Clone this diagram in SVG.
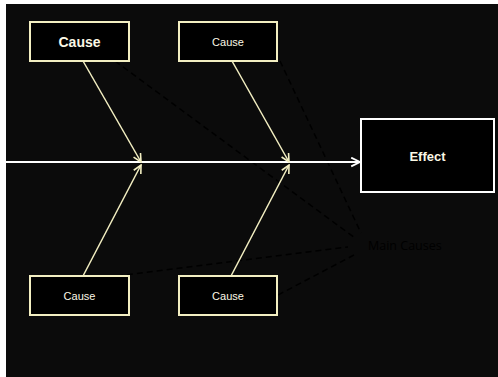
<svg xmlns="http://www.w3.org/2000/svg" width="498" height="377" viewBox="0 0 498 377">
<style>
.cause{fill:#000;stroke:#f3efc2;stroke-width:2}
.effect{fill:#000;stroke:#fff;stroke-width:2}
.t{font-family:"Century Gothic","URW Gothic","Liberation Sans",sans-serif;fill:#fbf8e6;text-anchor:middle;dominant-baseline:central}
.bone{stroke:#f3efc2;stroke-width:1.5;fill:none}
.dash{stroke:#000;stroke-width:1.5;stroke-dasharray:6 4;fill:none}
</style>
<defs>
<marker id="ah" viewBox="0 0 10 10" refX="9" refY="5" markerWidth="10" markerHeight="10" markerUnits="userSpaceOnUse" orient="auto">
<path d="M1,1 L9,5 L1,9" fill="none" stroke="#f3efc2" stroke-width="1.6"/>
</marker>
<marker id="ahw" viewBox="0 0 10 10" refX="9" refY="5" markerWidth="11" markerHeight="11" markerUnits="userSpaceOnUse" orient="auto">
<path d="M1,1 L9,5 L1,9" fill="none" stroke="#fff" stroke-width="1.6"/>
</marker>
</defs>
<rect x="0" y="0" width="498" height="377" fill="#fff"/>
<rect x="6" y="4" width="492" height="373" fill="#0b0b0b"/>
<g id="connectors">
<path class="dash" d="M115,61 L355,238"/>
<path class="dash" d="M280,61 L361,233"/>
<path class="dash" d="M117,276 L348,247"/>
<path class="dash" d="M278,295 L354,255"/>
<line x1="6" y1="162" x2="360" y2="162" stroke="#fff" stroke-width="2" marker-end="url(#ahw)"/>
<line class="bone" x1="83" y1="61" x2="141" y2="162" marker-end="url(#ah)"/>
<line class="bone" x1="83" y1="276" x2="141" y2="165" marker-end="url(#ah)"/>
<line class="bone" x1="232" y1="61" x2="289" y2="162" marker-end="url(#ah)"/>
<line class="bone" x1="231" y1="276" x2="289" y2="165" marker-end="url(#ah)"/>
</g>
<g id="cause1">
<rect class="cause" x="30" y="22" width="99" height="39"/>
<text class="t" x="79.5" y="42" font-size="14" font-weight="bold">Cause</text>
</g>
<g id="cause2">
<rect class="cause" x="179" y="22" width="98" height="39"/>
<text class="t" x="228" y="42" font-size="11">Cause</text>
</g>
<g id="cause3">
<rect class="cause" x="30" y="276" width="99" height="39"/>
<text class="t" x="79.5" y="296" font-size="11">Cause</text>
</g>
<g id="cause4">
<rect class="cause" x="179" y="276" width="98" height="39"/>
<text class="t" x="228" y="296" font-size="11">Cause</text>
</g>
<g id="effect">
<rect class="effect" x="361" y="119" width="133" height="73"/>
<text class="t" x="427.5" y="156" font-size="13" font-weight="bold" fill="#fff">Effect</text>
</g>
<g id="label">
<text x="368" y="249.5" font-family="Open Sans, sans-serif" font-size="12.5" fill="#000">Main Causes</text>
</g>
</svg>
